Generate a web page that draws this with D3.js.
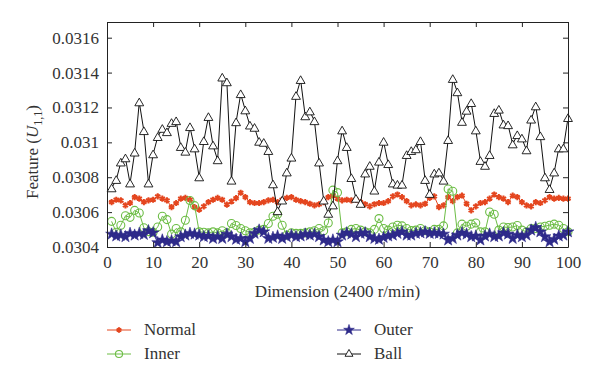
<!DOCTYPE html>
<html>
<head>
<meta charset="utf-8">
<script src="https://cdn.jsdelivr.net/npm/d3@7"></script>
<style>
  body { margin: 0; background: #fff; }
  svg, svg text { font-family: "Liberation Serif", "Times New Roman", "DejaVu Serif", serif; }
</style>
</head>
<body>
<svg id="chart" width="600" height="380"></svg>
<script>
// values, one per dimension (1..100)
const normal = [
  0.030657, 0.030671, 0.030667, 0.030639, 0.030652, 0.030686, 0.030677, 0.030657, 0.030667, 0.030671,
  0.030690, 0.030677, 0.030667, 0.030629, 0.030652, 0.030677, 0.030682, 0.030671, 0.030629, 0.030614,
  0.030633, 0.030657, 0.030671, 0.030682, 0.030671, 0.030643, 0.030661, 0.030680, 0.030711, 0.030686,
  0.030657, 0.030652, 0.030652, 0.030657, 0.030667, 0.030671, 0.030657, 0.030671, 0.030682, 0.030686,
  0.030671, 0.030663, 0.030657, 0.030648, 0.030639, 0.030645, 0.030657, 0.030686, 0.030695, 0.030677,
  0.030667, 0.030671, 0.030667, 0.030671, 0.030657, 0.030645, 0.030633, 0.030645, 0.030652, 0.030652,
  0.030663, 0.030690, 0.030701, 0.030686, 0.030663, 0.030639, 0.030644, 0.030639, 0.030648, 0.030682,
  0.030690, 0.030629, 0.030639, 0.030686, 0.030663, 0.030686, 0.030695, 0.030648, 0.030610, 0.030633,
  0.030652, 0.030657, 0.030677, 0.030701, 0.030686, 0.030677, 0.030657, 0.030695, 0.030686, 0.030657,
  0.030639, 0.030633, 0.030657, 0.030652, 0.030667, 0.030686, 0.030677, 0.030682, 0.030677, 0.030677
];
const inner = [
  0.030547, 0.030485, 0.030525, 0.030579, 0.030570, 0.030610, 0.030595, 0.030510, 0.030488, 0.030485,
  0.030515, 0.030576, 0.030557, 0.030474, 0.030506, 0.030487, 0.030553, 0.030667, 0.030637, 0.030487,
  0.030485, 0.030481, 0.030487, 0.030481, 0.030493, 0.030481, 0.030535, 0.030523, 0.030506, 0.030493,
  0.030481, 0.030485, 0.030497, 0.030501, 0.030535, 0.030576, 0.030588, 0.030525, 0.030468, 0.030481,
  0.030478, 0.030478, 0.030481, 0.030487, 0.030493, 0.030506, 0.030493, 0.030538, 0.030726, 0.030712,
  0.030481, 0.030487, 0.030501, 0.030506, 0.030497, 0.030487, 0.030481, 0.030501, 0.030563, 0.030506,
  0.030497, 0.030515, 0.030525, 0.030521, 0.030506, 0.030494, 0.030497, 0.030506, 0.030493, 0.030487,
  0.030501, 0.030501, 0.030521, 0.030733, 0.030720, 0.030481, 0.030531, 0.030519, 0.030531, 0.030538,
  0.030487, 0.030487, 0.030601, 0.030588, 0.030497, 0.030515, 0.030512, 0.030515, 0.030523, 0.030497,
  0.030487, 0.030506, 0.030506, 0.030515, 0.030519, 0.030525, 0.030531, 0.030525, 0.030506, 0.030487
];
const outer = [
  0.030474, 0.030463, 0.030468, 0.030459, 0.030478, 0.030468, 0.030478, 0.030472, 0.030493, 0.030481,
  0.030425, 0.030440, 0.030430, 0.030436, 0.030430, 0.030459, 0.030468, 0.030478, 0.030474, 0.030468,
  0.030459, 0.030463, 0.030449, 0.030459, 0.030449, 0.030474, 0.030459, 0.030444, 0.030449, 0.030430,
  0.030449, 0.030478, 0.030497, 0.030487, 0.030449, 0.030455, 0.030463, 0.030449, 0.030459, 0.030468,
  0.030459, 0.030463, 0.030474, 0.030468, 0.030474, 0.030459, 0.030440, 0.030430, 0.030440, 0.030430,
  0.030468, 0.030481, 0.030474, 0.030459, 0.030478, 0.030481, 0.030459, 0.030449, 0.030444, 0.030455,
  0.030463, 0.030468, 0.030478, 0.030487, 0.030468, 0.030468, 0.030478, 0.030481, 0.030487, 0.030478,
  0.030481, 0.030478, 0.030474, 0.030440, 0.030449, 0.030468, 0.030481, 0.030474, 0.030459, 0.030463,
  0.030440, 0.030463, 0.030474, 0.030459, 0.030463, 0.030481, 0.030474, 0.030449, 0.030468, 0.030459,
  0.030468, 0.030497, 0.030512, 0.030487, 0.030459, 0.030430, 0.030444, 0.030463, 0.030468, 0.030487
];
const ball = [
  0.030737, 0.030785, 0.030885, 0.030909, 0.030765, 0.030942, 0.031230, 0.031065, 0.030765, 0.030932,
  0.031031, 0.031078, 0.031059, 0.031112, 0.031122, 0.030974, 0.030947, 0.031088, 0.030966, 0.030800,
  0.031008, 0.031146, 0.030983, 0.030898, 0.031372, 0.031345, 0.030781, 0.031116, 0.031277, 0.031184,
  0.031097, 0.031084, 0.031004, 0.030998, 0.030951, 0.030760, 0.030606, 0.030667, 0.030828, 0.030913,
  0.031267, 0.031358, 0.031150, 0.031178, 0.031122, 0.030885, 0.030667, 0.030591, 0.030639, 0.030898,
  0.031069, 0.030974, 0.030796, 0.030677, 0.030648, 0.030822, 0.030866, 0.030724, 0.030890, 0.031004,
  0.030876, 0.030765, 0.030758, 0.030758, 0.030928, 0.030951, 0.030961, 0.031008, 0.030785, 0.030705,
  0.030822, 0.030828, 0.030781, 0.031014, 0.031364, 0.031288, 0.031118, 0.031182, 0.031226, 0.031069,
  0.030894, 0.030866, 0.030928, 0.031169, 0.031188, 0.031103, 0.031099, 0.030989, 0.031042, 0.031023,
  0.030955, 0.031131, 0.031207, 0.031036, 0.030800, 0.030733, 0.030828, 0.030966, 0.030966, 0.031140
];

const xTicks = [0, 10, 20, 30, 40, 50, 60, 70, 80, 90, 100];
const yTicks = [0.0304, 0.0306, 0.0308, 0.031, 0.0312, 0.0314, 0.0316];
const seriesNames = ["Normal", "Inner", "Outer", "Ball"];

const serif = "'Liberation Serif', 'Times New Roman', 'DejaVu Serif', serif";
const svg = d3.select("#chart");

// plot box in pixels
const box = { left: 107, right: 568, top: 22, bottom: 247 };

const x = d3.scaleLinear().domain([0, 100]).range([box.left, box.right]);
const y = d3.scaleLinear().domain([0.0304, 0.03169]).range([box.bottom, box.top]);

// series styles: colour + marker
const series = [
  { name: "Normal", data: normal, color: "#e4461f", symbol: d3.symbolAsterisk, size: 26, fill: "none", sw: 2 },
  { name: "Inner",  data: inner,  color: "#6cbd45", symbol: d3.symbolCircle,   size: 50, fill: "none", sw: 1.1 },
  { name: "Outer",  data: outer,  color: "#2e2a8a", symbol: d3.symbolStar,     size: 44, fill: "#2e2a8a", sw: 0.6 },
  { name: "Ball",   data: ball,   color: "#111111", symbol: d3.symbolTriangle, size: 34, fill: "#fff", sw: 0.9 }
];

const line = d3.line()
  .x((d, i) => x(i + 1))
  .y(d => y(d));

series.forEach(s => {
  const g = svg.append("g");
  g.append("path")
    .attr("d", line(s.data))
    .attr("fill", "none")
    .attr("stroke", s.color)
    .attr("stroke-width", 1);

  const sym = d3.symbol().type(s.symbol).size(s.size);
  g.selectAll("path.mk")
    .data(s.data)
    .enter()
    .append("path")
    .attr("class", "mk")
    .attr("d", sym)
    .attr("transform", (d, i) => `translate(${x(i + 1)},${y(d) + (s.symbol === d3.symbolTriangle ? 1 : 0)})`)
    .attr("fill", s.fill)
    .attr("stroke", s.color)
    .attr("stroke-width", s.sw);
});

// axes, ticks pointing inward on all four sides
const fmt = d => +d.toFixed(4);

const axes = [
  svg.append("g")
    .attr("transform", `translate(0,${box.bottom})`)
    .call(d3.axisBottom(x).tickValues(xTicks).tickSizeInner(-5).tickSizeOuter(0).tickPadding(9)),
  svg.append("g")
    .attr("transform", `translate(${box.left},0)`)
    .call(d3.axisLeft(y).tickValues(yTicks).tickFormat(fmt).tickSizeInner(-5).tickSizeOuter(0).tickPadding(8)),
  svg.append("g")
    .attr("transform", `translate(0,${box.top})`)
    .call(d3.axisTop(x).tickValues(xTicks).tickFormat(() => "").tickSizeInner(-5).tickSizeOuter(0)),
  svg.append("g")
    .attr("transform", `translate(${box.right},0)`)
    .call(d3.axisRight(y).tickValues(yTicks).tickFormat(() => "").tickSizeInner(-5).tickSizeOuter(0))
];
axes.forEach(a => a.attr("font-family", serif).attr("font-size", 17));

svg.selectAll(".tick text")
  .style("font-family", serif)
  .attr("font-size", 17)
  .attr("fill", "#333");
svg.selectAll(".domain, .tick line").attr("stroke", "#222");

// axis titles
svg.append("text")
  .attr("x", (box.left + box.right) / 2)
  .attr("y", 297)
  .attr("text-anchor", "middle")
  .style("font-family", serif)
  .attr("font-size", 17)
  .attr("fill", "#333")
  .text("Dimension (2400 r/min)");

const yl = svg.append("text")
  .attr("transform", "translate(38,152) rotate(-90)")
  .attr("text-anchor", "middle")
  .style("font-family", serif)
  .attr("font-size", 17)
  .attr("fill", "#333");
yl.append("tspan").text("Feature (");
yl.append("tspan").attr("font-style", "italic").text("U");
yl.append("tspan").attr("font-size", 12).attr("dy", 4).text("1,1");
yl.append("tspan").attr("dy", -4).text(")");

// legend, two columns
const legendPos = [
  { x: 107, y: 330 },
  { x: 107, y: 354 },
  { x: 337, y: 330 },
  { x: 337, y: 354 }
];
series.forEach((s, i) => {
  const p = legendPos[i];
  const g = svg.append("g").attr("transform", `translate(${p.x},${p.y})`);
  g.append("line")
    .attr("x1", 0).attr("x2", 24)
    .attr("stroke", s.color)
    .attr("stroke-width", 1);
  g.append("path")
    .attr("d", d3.symbol().type(s.symbol).size(s.size * 0.8))
    .attr("transform", "translate(12,0)")
    .attr("fill", s.fill)
    .attr("stroke", s.color)
    .attr("stroke-width", s.sw);
  g.append("text")
    .attr("x", 37)
    .attr("y", 5)
    .style("font-family", serif)
    .attr("font-size", 17)
    .attr("fill", "#333")
    .text(seriesNames[i]);
});
</script>
</body>
</html>
